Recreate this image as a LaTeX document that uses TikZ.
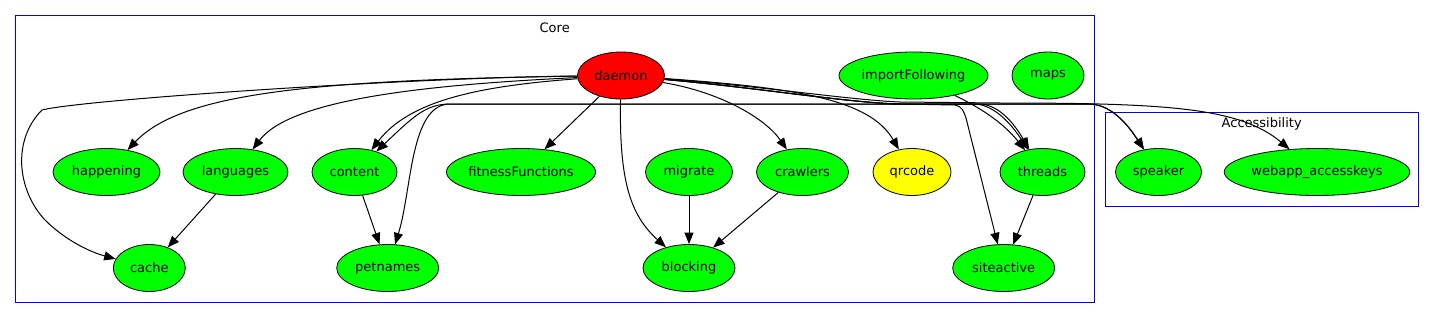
\documentclass[tikz,border=0pt]{standalone}
\usepackage{fontspec}
\setmainfont{DejaVu Sans}
\usepackage{xcolor}
\usepackage{tikz}
\usetikzlibrary{
	arrows.meta,
	shapes.geometric
}
\definecolor{NodeGreen}{RGB}{0,255,0}
\definecolor{NodeRed}{RGB}{255,0,0}
\definecolor{NodeYellow}{RGB}{255,255,0}
\definecolor{BoxBlue}{RGB}{0,0,255}

\begin{document}
\begin{tikzpicture}[x=1pt, y=-1pt,
		font=\fontsize{13}{15}\selectfont,
		mod/.style={ellipse, draw=black, line width=0.8pt, fill=NodeGreen, inner sep=0pt, minimum height=47pt},
		edge/.style={line width=1pt, -{Triangle[length=11.5pt,width=9pt]}},
		both/.style={{Triangle[length=11.5pt,width=9pt]}-{Triangle[length=11.5pt,width=9pt]}},
		cluster/.style={draw=BoxBlue, line width=1pt}]
		\useasboundingbox (0,0) rectangle (1435,319);
		
		% 子图框
		\draw[cluster] (15.5,15.5) rectangle (1094.5,302.5);
		\node (coreLabel) at (554.7,27.7) {Core};
		\draw[cluster] (1105,112) rectangle (1418.7,206.7);
		\node (accLabel) at (1261.7,123.7) {Accessibility};
		
		% 第一层
		\node[mod, fill=NodeRed, minimum width=87pt] (daemon) at (621,75.5) {daemon};
		\node[mod, minimum width=149pt] (importFollowing) at (913.5,75.5) {importFollowing};
		\node[mod, minimum width=72pt] (maps) at (1048,75.5) {maps};
		
		% 第二层
		\node[mod, minimum width=107pt] (happening) at (106.5,172) {happening};
		\node[mod, minimum width=105pt] (languages) at (235.5,172) {languages};
		\node[mod, minimum width=85pt] (content) at (354.5,172) {content};
		\node[mod, minimum width=149pt] (fitnessFunctions) at (521,172) {fitnessFunctions};
		\node[mod, minimum width=87pt] (migrate) at (689,172) {migrate};
		\node[mod, minimum width=92pt] (crawlers) at (802.5,172) {crawlers};
		\node[mod, fill=NodeYellow, minimum width=78pt] (qrcode) at (912,172) {qrcode};
		\node[mod, minimum width=85pt] (threads) at (1042.5,172) {threads};
		\node[mod, minimum width=86pt] (speaker) at (1158.5,172) {speaker};
		\node[mod, minimum width=182pt] (webapp) at (1317,172) {webapp\_accesskeys};
		
		% 第三层
		\node[mod, minimum width=72pt] (cache) at (149.3,268) {cache};
		\node[mod, minimum width=102pt] (petnames) at (387.7,268) {petnames};
		\node[mod, minimum width=92pt] (blocking) at (689,268) {blocking};
		\node[mod, minimum width=102pt] (siteactive) at (1003.7,268) {siteactive};
		
		% daemon 向左
		\draw[edge] (daemon) .. controls (300,80) and (180,95) .. (happening);
		\draw[edge] (daemon) .. controls (420,85) and (290,100) .. (languages);
		\draw[edge] (daemon) .. controls (400,78) and (80,100) .. (42,110)
			.. controls (12,140) and (17,190) .. (45,220)
			.. controls (65,240) and (90,252) .. (cache);
		\draw[edge] (daemon) .. controls (480,86) and (410,100) .. (content);
		\draw[edge] (daemon) -- (fitnessFunctions);
		\draw[edge] (daemon) .. controls (619,180) and (630,215) .. (blocking);
		
		% 长横线
		\draw[edge, both]
			(content) .. controls (412,118) and (425,104) .. (450,104) -- (1090,104)
			.. controls (1112,105) and (1128,125) .. (speaker);
		\draw[edge, both]
			(petnames) .. controls (412,190) and (410,104) .. (450,104) -- (980,104)
			.. controls (1000,105) and (1015,125) .. (threads);
		
		% daemon 向右
		\draw[edge] (daemon) .. controls (720,92) and (765,118) .. (crawlers);
		\draw[edge] (daemon) .. controls (800,88) and (870,100) .. (qrcode);
		\draw[edge] (daemon) .. controls (760,88) and (850,103) .. (900,104) -- (955,105)
			.. controls (962,106) and (964,112) .. (966,118) -- (siteactive);
		\draw[edge] (daemon) .. controls (760,88) and (850,103) .. (900,104) -- (975,104)
			.. controls (995,105) and (1012,125) .. (threads);
		\draw[edge] (daemon) .. controls (760,88) and (850,103) .. (900,104) -- (1090,104)
			.. controls (1112,105) and (1128,125) .. (speaker);
		\draw[edge] (daemon) .. controls (760,86) and (850,100) .. (900,102) -- (1000,103)
			.. controls (1170,103) and (1240,108) .. (webapp);
		
		% 其余
		\draw[edge] (importFollowing) .. controls (985,110) and (1005,125) .. (threads);
		\draw[edge] (threads) -- (siteactive);
		\draw[edge] (languages) -- (cache);
		\draw[edge] (content) -- (petnames);
		\draw[edge] (migrate) -- (blocking);
		\draw[edge] (crawlers) -- (blocking);
	\end{tikzpicture}
\end{document}
